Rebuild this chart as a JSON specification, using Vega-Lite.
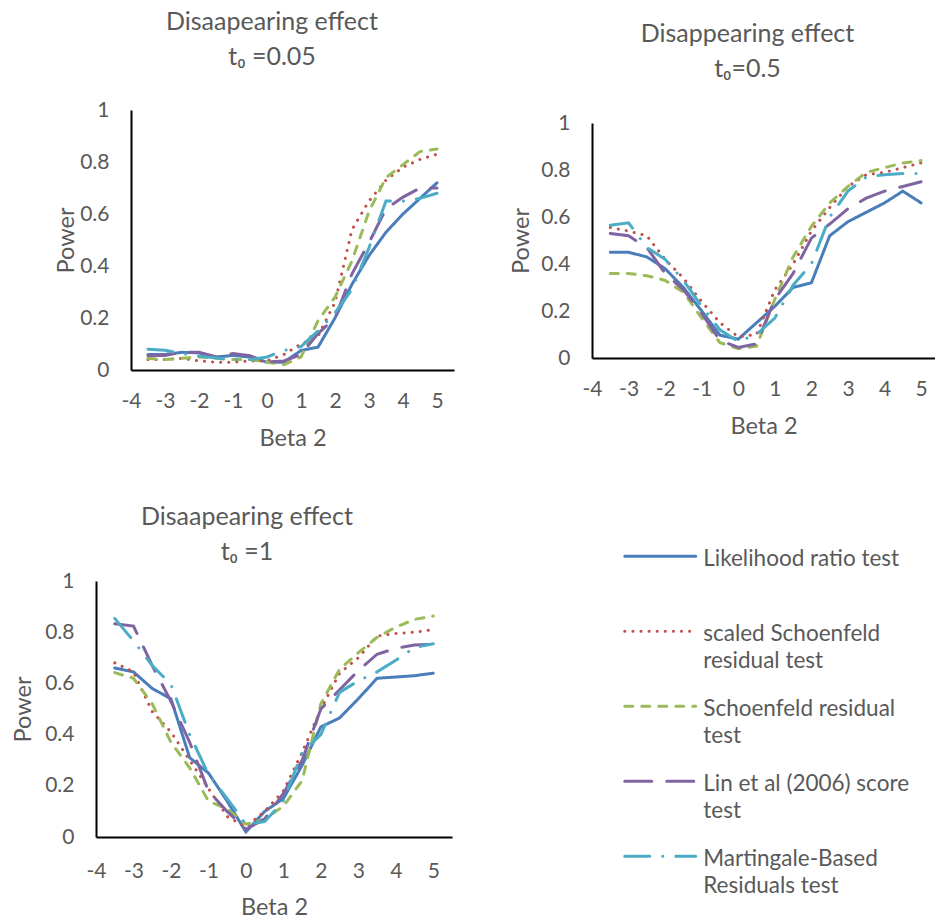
{
"$schema": "https://vega.github.io/schema/vega-lite/v6.json",
"background": "white",
"padding": {"left": 11, "top": 10, "right": 0, "bottom": 0},
"datasets": {
"p1": [
{"beta2":-3.5,"test":"Likelihood ratio test","power":0.06},{"beta2":-3,"test":"Likelihood ratio test","power":0.06},{"beta2":-2.5,"test":"Likelihood ratio test","power":0.068},{"beta2":-2,"test":"Likelihood ratio test","power":0.066},{"beta2":-1.5,"test":"Likelihood ratio test","power":0.05},{"beta2":-1,"test":"Likelihood ratio test","power":0.056},{"beta2":-0.5,"test":"Likelihood ratio test","power":0.05},{"beta2":0,"test":"Likelihood ratio test","power":0.03},{"beta2":0.5,"test":"Likelihood ratio test","power":0.03},{"beta2":1,"test":"Likelihood ratio test","power":0.075},{"beta2":1.5,"test":"Likelihood ratio test","power":0.088},{"beta2":2,"test":"Likelihood ratio test","power":0.2},{"beta2":2.5,"test":"Likelihood ratio test","power":0.33},{"beta2":3,"test":"Likelihood ratio test","power":0.44},{"beta2":3.5,"test":"Likelihood ratio test","power":0.53},{"beta2":4,"test":"Likelihood ratio test","power":0.6},{"beta2":4.5,"test":"Likelihood ratio test","power":0.66},{"beta2":5,"test":"Likelihood ratio test","power":0.72},
{"beta2":-3.5,"test":"scaled Schoenfeld residual test","power":0.04},{"beta2":-3,"test":"scaled Schoenfeld residual test","power":0.04},{"beta2":-2.5,"test":"scaled Schoenfeld residual test","power":0.045},{"beta2":-2,"test":"scaled Schoenfeld residual test","power":0.035},{"beta2":-1.5,"test":"scaled Schoenfeld residual test","power":0.03},{"beta2":-1,"test":"scaled Schoenfeld residual test","power":0.03},{"beta2":-0.5,"test":"scaled Schoenfeld residual test","power":0.035},{"beta2":0,"test":"scaled Schoenfeld residual test","power":0.035},{"beta2":0.5,"test":"scaled Schoenfeld residual test","power":0.06},{"beta2":1,"test":"scaled Schoenfeld residual test","power":0.1},{"beta2":1.5,"test":"scaled Schoenfeld residual test","power":0.13},{"beta2":2,"test":"scaled Schoenfeld residual test","power":0.26},{"beta2":2.5,"test":"scaled Schoenfeld residual test","power":0.54},{"beta2":3,"test":"scaled Schoenfeld residual test","power":0.65},{"beta2":3.5,"test":"scaled Schoenfeld residual test","power":0.73},{"beta2":4,"test":"scaled Schoenfeld residual test","power":0.78},{"beta2":4.5,"test":"scaled Schoenfeld residual test","power":0.81},{"beta2":5,"test":"scaled Schoenfeld residual test","power":0.83},
{"beta2":-3.5,"test":"Schoenfeld residual test","power":0.045},{"beta2":-3,"test":"Schoenfeld residual test","power":0.04},{"beta2":-2.5,"test":"Schoenfeld residual test","power":0.045},{"beta2":-2,"test":"Schoenfeld residual test","power":0.05},{"beta2":-1.5,"test":"Schoenfeld residual test","power":0.045},{"beta2":-1,"test":"Schoenfeld residual test","power":0.04},{"beta2":-0.5,"test":"Schoenfeld residual test","power":0.04},{"beta2":0,"test":"Schoenfeld residual test","power":0.03},{"beta2":0.5,"test":"Schoenfeld residual test","power":0.02},{"beta2":1,"test":"Schoenfeld residual test","power":0.05},{"beta2":1.5,"test":"Schoenfeld residual test","power":0.19},{"beta2":2,"test":"Schoenfeld residual test","power":0.28},{"beta2":2.5,"test":"Schoenfeld residual test","power":0.42},{"beta2":3,"test":"Schoenfeld residual test","power":0.61},{"beta2":3.5,"test":"Schoenfeld residual test","power":0.74},{"beta2":4,"test":"Schoenfeld residual test","power":0.79},{"beta2":4.5,"test":"Schoenfeld residual test","power":0.84},{"beta2":5,"test":"Schoenfeld residual test","power":0.85},
{"beta2":-3.5,"test":"Lin et al (2006) score test","power":0.056},{"beta2":-3,"test":"Lin et al (2006) score test","power":0.056},{"beta2":-2.5,"test":"Lin et al (2006) score test","power":0.068},{"beta2":-2,"test":"Lin et al (2006) score test","power":0.068},{"beta2":-1.5,"test":"Lin et al (2006) score test","power":0.05},{"beta2":-1,"test":"Lin et al (2006) score test","power":0.063},{"beta2":-0.5,"test":"Lin et al (2006) score test","power":0.055},{"beta2":0,"test":"Lin et al (2006) score test","power":0.03},{"beta2":0.5,"test":"Lin et al (2006) score test","power":0.035},{"beta2":1,"test":"Lin et al (2006) score test","power":0.06},{"beta2":1.5,"test":"Lin et al (2006) score test","power":0.14},{"beta2":2,"test":"Lin et al (2006) score test","power":0.2},{"beta2":2.5,"test":"Lin et al (2006) score test","power":0.37},{"beta2":3,"test":"Lin et al (2006) score test","power":0.49},{"beta2":3.5,"test":"Lin et al (2006) score test","power":0.62},{"beta2":4,"test":"Lin et al (2006) score test","power":0.665},{"beta2":4.5,"test":"Lin et al (2006) score test","power":0.7},{"beta2":5,"test":"Lin et al (2006) score test","power":0.7},
{"beta2":-3.5,"test":"Martingale-Based Residuals test","power":0.08},{"beta2":-3,"test":"Martingale-Based Residuals test","power":0.076},{"beta2":-2.5,"test":"Martingale-Based Residuals test","power":0.063},{"beta2":-2,"test":"Martingale-Based Residuals test","power":0.054},{"beta2":-1.5,"test":"Martingale-Based Residuals test","power":0.046},{"beta2":-1,"test":"Martingale-Based Residuals test","power":0.04},{"beta2":-0.5,"test":"Martingale-Based Residuals test","power":0.04},{"beta2":0,"test":"Martingale-Based Residuals test","power":0.05},{"beta2":0.5,"test":"Martingale-Based Residuals test","power":0.075},{"beta2":1,"test":"Martingale-Based Residuals test","power":0.09},{"beta2":1.5,"test":"Martingale-Based Residuals test","power":0.15},{"beta2":2,"test":"Martingale-Based Residuals test","power":0.22},{"beta2":2.5,"test":"Martingale-Based Residuals test","power":0.31},{"beta2":3,"test":"Martingale-Based Residuals test","power":0.47},{"beta2":3.5,"test":"Martingale-Based Residuals test","power":0.65},{"beta2":4,"test":"Martingale-Based Residuals test","power":0.65},{"beta2":4.5,"test":"Martingale-Based Residuals test","power":0.66},{"beta2":5,"test":"Martingale-Based Residuals test","power":0.68}
],
"p2": [
{"beta2":-3.5,"test":"Likelihood ratio test","power":0.45},{"beta2":-3,"test":"Likelihood ratio test","power":0.45},{"beta2":-2.5,"test":"Likelihood ratio test","power":0.43},{"beta2":-2,"test":"Likelihood ratio test","power":0.38},{"beta2":-1.5,"test":"Likelihood ratio test","power":0.3},{"beta2":-1,"test":"Likelihood ratio test","power":0.2},{"beta2":-0.5,"test":"Likelihood ratio test","power":0.097},{"beta2":0,"test":"Likelihood ratio test","power":0.08},{"beta2":0.5,"test":"Likelihood ratio test","power":0.15},{"beta2":1,"test":"Likelihood ratio test","power":0.22},{"beta2":1.5,"test":"Likelihood ratio test","power":0.3},{"beta2":2,"test":"Likelihood ratio test","power":0.32},{"beta2":2.5,"test":"Likelihood ratio test","power":0.52},{"beta2":3,"test":"Likelihood ratio test","power":0.58},{"beta2":3.5,"test":"Likelihood ratio test","power":0.62},{"beta2":4,"test":"Likelihood ratio test","power":0.66},{"beta2":4.5,"test":"Likelihood ratio test","power":0.71},{"beta2":5,"test":"Likelihood ratio test","power":0.66},
{"beta2":-3.5,"test":"scaled Schoenfeld residual test","power":0.555},{"beta2":-3,"test":"scaled Schoenfeld residual test","power":0.54},{"beta2":-2.5,"test":"scaled Schoenfeld residual test","power":0.52},{"beta2":-2,"test":"scaled Schoenfeld residual test","power":0.42},{"beta2":-1.5,"test":"scaled Schoenfeld residual test","power":0.34},{"beta2":-1,"test":"scaled Schoenfeld residual test","power":0.24},{"beta2":-0.5,"test":"scaled Schoenfeld residual test","power":0.15},{"beta2":0,"test":"scaled Schoenfeld residual test","power":0.09},{"beta2":0.5,"test":"scaled Schoenfeld residual test","power":0.1},{"beta2":1,"test":"scaled Schoenfeld residual test","power":0.29},{"beta2":1.5,"test":"scaled Schoenfeld residual test","power":0.4},{"beta2":2,"test":"scaled Schoenfeld residual test","power":0.54},{"beta2":2.5,"test":"scaled Schoenfeld residual test","power":0.64},{"beta2":3,"test":"scaled Schoenfeld residual test","power":0.73},{"beta2":3.5,"test":"scaled Schoenfeld residual test","power":0.78},{"beta2":4,"test":"scaled Schoenfeld residual test","power":0.79},{"beta2":4.5,"test":"scaled Schoenfeld residual test","power":0.81},{"beta2":5,"test":"scaled Schoenfeld residual test","power":0.83},
{"beta2":-3.5,"test":"Schoenfeld residual test","power":0.36},{"beta2":-3,"test":"Schoenfeld residual test","power":0.36},{"beta2":-2.5,"test":"Schoenfeld residual test","power":0.35},{"beta2":-2,"test":"Schoenfeld residual test","power":0.33},{"beta2":-1.5,"test":"Schoenfeld residual test","power":0.28},{"beta2":-1,"test":"Schoenfeld residual test","power":0.17},{"beta2":-0.5,"test":"Schoenfeld residual test","power":0.065},{"beta2":0,"test":"Schoenfeld residual test","power":0.04},{"beta2":0.5,"test":"Schoenfeld residual test","power":0.05},{"beta2":1,"test":"Schoenfeld residual test","power":0.25},{"beta2":1.5,"test":"Schoenfeld residual test","power":0.43},{"beta2":2,"test":"Schoenfeld residual test","power":0.56},{"beta2":2.5,"test":"Schoenfeld residual test","power":0.66},{"beta2":3,"test":"Schoenfeld residual test","power":0.73},{"beta2":3.5,"test":"Schoenfeld residual test","power":0.79},{"beta2":4,"test":"Schoenfeld residual test","power":0.81},{"beta2":4.5,"test":"Schoenfeld residual test","power":0.83},{"beta2":5,"test":"Schoenfeld residual test","power":0.84},
{"beta2":-3.5,"test":"Lin et al (2006) score test","power":0.53},{"beta2":-3,"test":"Lin et al (2006) score test","power":0.52},{"beta2":-2.5,"test":"Lin et al (2006) score test","power":0.47},{"beta2":-2,"test":"Lin et al (2006) score test","power":0.36},{"beta2":-1.5,"test":"Lin et al (2006) score test","power":0.29},{"beta2":-1,"test":"Lin et al (2006) score test","power":0.19},{"beta2":-0.5,"test":"Lin et al (2006) score test","power":0.075},{"beta2":0,"test":"Lin et al (2006) score test","power":0.045},{"beta2":0.5,"test":"Lin et al (2006) score test","power":0.06},{"beta2":1,"test":"Lin et al (2006) score test","power":0.25},{"beta2":1.5,"test":"Lin et al (2006) score test","power":0.36},{"beta2":2,"test":"Lin et al (2006) score test","power":0.51},{"beta2":2.5,"test":"Lin et al (2006) score test","power":0.57},{"beta2":3,"test":"Lin et al (2006) score test","power":0.635},{"beta2":3.5,"test":"Lin et al (2006) score test","power":0.68},{"beta2":4,"test":"Lin et al (2006) score test","power":0.71},{"beta2":4.5,"test":"Lin et al (2006) score test","power":0.73},{"beta2":5,"test":"Lin et al (2006) score test","power":0.75},
{"beta2":-3.5,"test":"Martingale-Based Residuals test","power":0.565},{"beta2":-3,"test":"Martingale-Based Residuals test","power":0.575},{"beta2":-2.5,"test":"Martingale-Based Residuals test","power":0.47},{"beta2":-2,"test":"Martingale-Based Residuals test","power":0.42},{"beta2":-1.5,"test":"Martingale-Based Residuals test","power":0.33},{"beta2":-1,"test":"Martingale-Based Residuals test","power":0.22},{"beta2":-0.5,"test":"Martingale-Based Residuals test","power":0.12},{"beta2":0,"test":"Martingale-Based Residuals test","power":0.07},{"beta2":0.5,"test":"Martingale-Based Residuals test","power":0.1},{"beta2":1,"test":"Martingale-Based Residuals test","power":0.17},{"beta2":1.5,"test":"Martingale-Based Residuals test","power":0.31},{"beta2":2,"test":"Martingale-Based Residuals test","power":0.4},{"beta2":2.5,"test":"Martingale-Based Residuals test","power":0.6},{"beta2":3,"test":"Martingale-Based Residuals test","power":0.71},{"beta2":3.5,"test":"Martingale-Based Residuals test","power":0.77},{"beta2":4,"test":"Martingale-Based Residuals test","power":0.78},{"beta2":4.5,"test":"Martingale-Based Residuals test","power":0.785},{"beta2":5,"test":"Martingale-Based Residuals test","power":0.785}
],
"p3": [
{"beta2":-3.5,"test":"Likelihood ratio test","power":0.66},{"beta2":-3,"test":"Likelihood ratio test","power":0.645},{"beta2":-2.5,"test":"Likelihood ratio test","power":0.58},{"beta2":-2,"test":"Likelihood ratio test","power":0.54},{"beta2":-1.5,"test":"Likelihood ratio test","power":0.31},{"beta2":-1,"test":"Likelihood ratio test","power":0.25},{"beta2":-0.5,"test":"Likelihood ratio test","power":0.14},{"beta2":0,"test":"Likelihood ratio test","power":0.02},{"beta2":0.5,"test":"Likelihood ratio test","power":0.1},{"beta2":1,"test":"Likelihood ratio test","power":0.15},{"beta2":1.5,"test":"Likelihood ratio test","power":0.28},{"beta2":2,"test":"Likelihood ratio test","power":0.43},{"beta2":2.5,"test":"Likelihood ratio test","power":0.465},{"beta2":3,"test":"Likelihood ratio test","power":0.54},{"beta2":3.5,"test":"Likelihood ratio test","power":0.62},{"beta2":4,"test":"Likelihood ratio test","power":0.625},{"beta2":4.5,"test":"Likelihood ratio test","power":0.63},{"beta2":5,"test":"Likelihood ratio test","power":0.64},
{"beta2":-3.5,"test":"scaled Schoenfeld residual test","power":0.68},{"beta2":-3,"test":"scaled Schoenfeld residual test","power":0.645},{"beta2":-2.5,"test":"scaled Schoenfeld residual test","power":0.49},{"beta2":-2,"test":"scaled Schoenfeld residual test","power":0.41},{"beta2":-1.5,"test":"scaled Schoenfeld residual test","power":0.3},{"beta2":-1,"test":"scaled Schoenfeld residual test","power":0.19},{"beta2":-0.5,"test":"scaled Schoenfeld residual test","power":0.08},{"beta2":0,"test":"scaled Schoenfeld residual test","power":0.04},{"beta2":0.5,"test":"scaled Schoenfeld residual test","power":0.1},{"beta2":1,"test":"scaled Schoenfeld residual test","power":0.18},{"beta2":1.5,"test":"scaled Schoenfeld residual test","power":0.33},{"beta2":2,"test":"scaled Schoenfeld residual test","power":0.5},{"beta2":2.5,"test":"scaled Schoenfeld residual test","power":0.64},{"beta2":3,"test":"scaled Schoenfeld residual test","power":0.7},{"beta2":3.5,"test":"scaled Schoenfeld residual test","power":0.785},{"beta2":4,"test":"scaled Schoenfeld residual test","power":0.795},{"beta2":4.5,"test":"scaled Schoenfeld residual test","power":0.8},{"beta2":5,"test":"scaled Schoenfeld residual test","power":0.81},
{"beta2":-3.5,"test":"Schoenfeld residual test","power":0.642},{"beta2":-3,"test":"Schoenfeld residual test","power":0.62},{"beta2":-2.5,"test":"Schoenfeld residual test","power":0.52},{"beta2":-2,"test":"Schoenfeld residual test","power":0.37},{"beta2":-1.5,"test":"Schoenfeld residual test","power":0.27},{"beta2":-1,"test":"Schoenfeld residual test","power":0.14},{"beta2":-0.5,"test":"Schoenfeld residual test","power":0.11},{"beta2":0,"test":"Schoenfeld residual test","power":0.05},{"beta2":0.5,"test":"Schoenfeld residual test","power":0.07},{"beta2":1,"test":"Schoenfeld residual test","power":0.12},{"beta2":1.5,"test":"Schoenfeld residual test","power":0.22},{"beta2":2,"test":"Schoenfeld residual test","power":0.52},{"beta2":2.5,"test":"Schoenfeld residual test","power":0.655},{"beta2":3,"test":"Schoenfeld residual test","power":0.72},{"beta2":3.5,"test":"Schoenfeld residual test","power":0.78},{"beta2":4,"test":"Schoenfeld residual test","power":0.82},{"beta2":4.5,"test":"Schoenfeld residual test","power":0.85},{"beta2":5,"test":"Schoenfeld residual test","power":0.863},
{"beta2":-3.5,"test":"Lin et al (2006) score test","power":0.833},{"beta2":-3,"test":"Lin et al (2006) score test","power":0.824},{"beta2":-2.5,"test":"Lin et al (2006) score test","power":0.67},{"beta2":-2,"test":"Lin et al (2006) score test","power":0.53},{"beta2":-1.5,"test":"Lin et al (2006) score test","power":0.37},{"beta2":-1,"test":"Lin et al (2006) score test","power":0.18},{"beta2":-0.5,"test":"Lin et al (2006) score test","power":0.1},{"beta2":0,"test":"Lin et al (2006) score test","power":0.03},{"beta2":0.5,"test":"Lin et al (2006) score test","power":0.07},{"beta2":1,"test":"Lin et al (2006) score test","power":0.17},{"beta2":1.5,"test":"Lin et al (2006) score test","power":0.3},{"beta2":2,"test":"Lin et al (2006) score test","power":0.5},{"beta2":2.5,"test":"Lin et al (2006) score test","power":0.575},{"beta2":3,"test":"Lin et al (2006) score test","power":0.65},{"beta2":3.5,"test":"Lin et al (2006) score test","power":0.714},{"beta2":4,"test":"Lin et al (2006) score test","power":0.737},{"beta2":4.5,"test":"Lin et al (2006) score test","power":0.75},{"beta2":5,"test":"Lin et al (2006) score test","power":0.753},
{"beta2":-3.5,"test":"Martingale-Based Residuals test","power":0.854},{"beta2":-3,"test":"Martingale-Based Residuals test","power":0.766},{"beta2":-2.5,"test":"Martingale-Based Residuals test","power":0.67},{"beta2":-2,"test":"Martingale-Based Residuals test","power":0.596},{"beta2":-1.5,"test":"Martingale-Based Residuals test","power":0.4},{"beta2":-1,"test":"Martingale-Based Residuals test","power":0.245},{"beta2":-0.5,"test":"Martingale-Based Residuals test","power":0.15},{"beta2":0,"test":"Martingale-Based Residuals test","power":0.05},{"beta2":0.5,"test":"Martingale-Based Residuals test","power":0.06},{"beta2":1,"test":"Martingale-Based Residuals test","power":0.14},{"beta2":1.5,"test":"Martingale-Based Residuals test","power":0.33},{"beta2":2,"test":"Martingale-Based Residuals test","power":0.4},{"beta2":2.5,"test":"Martingale-Based Residuals test","power":0.565},{"beta2":3,"test":"Martingale-Based Residuals test","power":0.61},{"beta2":3.5,"test":"Martingale-Based Residuals test","power":0.645},{"beta2":4,"test":"Martingale-Based Residuals test","power":0.69},{"beta2":4.5,"test":"Martingale-Based Residuals test","power":0.74},{"beta2":5,"test":"Martingale-Based Residuals test","power":0.755}
]
},
"config": {
"font": "Lato",
"view": {"stroke": null},
"axis": {"grid": false, "ticks": false, "domainColor": "#000000", "domainWidth": 2, "labelFontSize": 21, "labelColor": "#595959", "titleFontSize": 23.5, "titleFontWeight": "normal", "titleColor": "#595959", "labelPadding": 22, "labelExpr": "datum.value"},
"axisX": {"titlePadding": 15, "labelFlush": false, "labelPadding": 20},
"title": {"fontSize": 25, "fontWeight": "normal", "color": "#595959", "lineHeight": 35, "frame": "group", "anchor": "middle"},
"legend": {"symbolType": "M-2,0.5L2,0.5", "symbolSize": 1260, "symbolOffset": 17.75, "symbolStrokeWidth": 3, "labelFontSize": 22.5, "labelColor": "#595959", "labelBaseline": "top", "labelLimit": 400, "labelOffset": 23.5, "rowPadding": 6, "padding": 0}
},
"spacing": 55,
"vconcat": [
{"spacing": 55, "hconcat": [
{"data": {"name": "p1"}, "width": 358, "height": 260,
 "title": {"text": ["Disaapearing effect", "t₀ =0.05"], "dx": -3, "offset": 29},
 "mark": {"type": "line", "strokeWidth": 3, "strokeCap": "round"},
 "encoding": {
  "x": {"field": "beta2", "type": "quantitative", "scale": {"domain": [-4, 5.5], "range": [35, 358], "nice": false, "zero": false}, "axis": {"title": "Beta 2", "values": [-4,-3,-2,-1,0,1,2,3,4,5]}},
  "y": {"field": "power", "type": "quantitative", "scale": {"domain": [0, 1], "nice": false}, "axis": {"title": "Power", "values": [0,0.2,0.4,0.6,0.8,1], "offset": -35, "titlePadding": 1}},
  "color": {"field": "test", "type": "nominal", "scale": {"domain": ["Likelihood ratio test","scaled Schoenfeld residual test","Schoenfeld residual test","Lin et al (2006) score test","Martingale-Based Residuals test"], "range": ["#4a7ebb","#c0504d","#9bbb59","#8064a2","#4bacc6"]}, "legend": {"title": null, "orient": "none", "legendX": 527, "legendY": 418, "labelExpr": "datum.label === 'Likelihood ratio test' ? ['Likelihood ratio test', ' '] : datum.label === 'scaled Schoenfeld residual test' ? [' scaled Schoenfeld', 'residual test'] : datum.label === 'Schoenfeld residual test' ? ['Schoenfeld residual', 'test'] : datum.label === 'Lin et al (2006) score test' ? ['Lin et al (2006) score', 'test'] : ['Martingale-Based', 'Residuals test']", "encoding": {"labels": {"lineHeight": {"value": 27}}, "symbols": {"strokeCap": {"value": "round"}}}}},
  "strokeDash": {"field": "test", "type": "nominal", "scale": {"domain": ["Likelihood ratio test","scaled Schoenfeld residual test","Schoenfeld residual test","Lin et al (2006) score test","Martingale-Based Residuals test"], "range": [[1,0],[0.1,8],[8,9],[27,15],[25,13,0.1,13]]}, "legend": {"title": null, "orient": "none", "legendX": 527, "legendY": 418, "labelExpr": "datum.label === 'Likelihood ratio test' ? ['Likelihood ratio test', ' '] : datum.label === 'scaled Schoenfeld residual test' ? [' scaled Schoenfeld', 'residual test'] : datum.label === 'Schoenfeld residual test' ? ['Schoenfeld residual', 'test'] : datum.label === 'Lin et al (2006) score test' ? ['Lin et al (2006) score', 'test'] : ['Martingale-Based', 'Residuals test']", "encoding": {"labels": {"lineHeight": {"value": 27}}, "symbols": {"strokeCap": {"value": "round"}}}}}
 }},
{"data": {"name": "p2"}, "width": 343, "height": 248,
 "title": {"text": ["Disappearing effect", "t₀=0.5"], "dx": -16, "offset": 28},
 "mark": {"type": "line", "strokeWidth": 3, "strokeCap": "round"},
 "encoding": {
  "x": {"field": "beta2", "type": "quantitative", "scale": {"domain": [-4, 5.38], "nice": false, "zero": false}, "axis": {"title": "Beta 2", "values": [-4,-3,-2,-1,0,1,2,3,4,5]}},
  "y": {"field": "power", "type": "quantitative", "scale": {"domain": [0, 1], "range": [248, 13], "nice": false}, "axis": {"title": "Power", "values": [0,0.2,0.4,0.6,0.8,1], "titlePadding": 7}},
  "color": {"field": "test", "type": "nominal", "scale": {"domain": ["Likelihood ratio test","scaled Schoenfeld residual test","Schoenfeld residual test","Lin et al (2006) score test","Martingale-Based Residuals test"], "range": ["#4a7ebb","#c0504d","#9bbb59","#8064a2","#4bacc6"]}, "legend": {"title": null, "orient": "none", "legendX": 527, "legendY": 418, "labelExpr": "datum.label === 'Likelihood ratio test' ? ['Likelihood ratio test', ' '] : datum.label === 'scaled Schoenfeld residual test' ? [' scaled Schoenfeld', 'residual test'] : datum.label === 'Schoenfeld residual test' ? ['Schoenfeld residual', 'test'] : datum.label === 'Lin et al (2006) score test' ? ['Lin et al (2006) score', 'test'] : ['Martingale-Based', 'Residuals test']", "encoding": {"labels": {"lineHeight": {"value": 27}}, "symbols": {"strokeCap": {"value": "round"}}}}},
  "strokeDash": {"field": "test", "type": "nominal", "scale": {"domain": ["Likelihood ratio test","scaled Schoenfeld residual test","Schoenfeld residual test","Lin et al (2006) score test","Martingale-Based Residuals test"], "range": [[1,0],[0.1,8],[8,9],[27,15],[25,13,0.1,13]]}, "legend": {"title": null, "orient": "none", "legendX": 527, "legendY": 418, "labelExpr": "datum.label === 'Likelihood ratio test' ? ['Likelihood ratio test', ' '] : datum.label === 'scaled Schoenfeld residual test' ? [' scaled Schoenfeld', 'residual test'] : datum.label === 'Schoenfeld residual test' ? ['Schoenfeld residual', 'test'] : datum.label === 'Lin et al (2006) score test' ? ['Lin et al (2006) score', 'test'] : ['Martingale-Based', 'Residuals test']", "encoding": {"labels": {"lineHeight": {"value": 27}}, "symbols": {"strokeCap": {"value": "round"}}}}}
 }}
]},
{"data": {"name": "p3"}, "width": 356, "height": 256,
 "title": {"text": ["Disaapearing effect", "t₀ =1"], "dx": -27, "offset": 5},
 "mark": {"type": "line", "strokeWidth": 3, "strokeCap": "round"},
 "encoding": {
  "x": {"field": "beta2", "type": "quantitative", "scale": {"domain": [-4, 5.5], "nice": false, "zero": false}, "axis": {"title": "Beta 2", "values": [-4,-3,-2,-1,0,1,2,3,4,5], "labelPadding": 23, "titlePadding": 14}},
  "y": {"field": "power", "type": "quantitative", "scale": {"domain": [0, 1], "nice": false}, "axis": {"title": "Power", "values": [0,0.2,0.4,0.6,0.8,1], "titlePadding": 9}},
  "color": {"field": "test", "type": "nominal", "scale": {"domain": ["Likelihood ratio test","scaled Schoenfeld residual test","Schoenfeld residual test","Lin et al (2006) score test","Martingale-Based Residuals test"], "range": ["#4a7ebb","#c0504d","#9bbb59","#8064a2","#4bacc6"]}, "legend": {"title": null, "orient": "none", "legendX": 527, "legendY": 418, "labelExpr": "datum.label === 'Likelihood ratio test' ? ['Likelihood ratio test', ' '] : datum.label === 'scaled Schoenfeld residual test' ? [' scaled Schoenfeld', 'residual test'] : datum.label === 'Schoenfeld residual test' ? ['Schoenfeld residual', 'test'] : datum.label === 'Lin et al (2006) score test' ? ['Lin et al (2006) score', 'test'] : ['Martingale-Based', 'Residuals test']", "encoding": {"labels": {"lineHeight": {"value": 27}}, "symbols": {"strokeCap": {"value": "round"}}}}},
  "strokeDash": {"field": "test", "type": "nominal", "scale": {"domain": ["Likelihood ratio test","scaled Schoenfeld residual test","Schoenfeld residual test","Lin et al (2006) score test","Martingale-Based Residuals test"], "range": [[1,0],[0.1,8],[8,9],[27,15],[25,13,0.1,13]]}, "legend": {"title": null, "orient": "none", "legendX": 527, "legendY": 418, "labelExpr": "datum.label === 'Likelihood ratio test' ? ['Likelihood ratio test', ' '] : datum.label === 'scaled Schoenfeld residual test' ? [' scaled Schoenfeld', 'residual test'] : datum.label === 'Schoenfeld residual test' ? ['Schoenfeld residual', 'test'] : datum.label === 'Lin et al (2006) score test' ? ['Lin et al (2006) score', 'test'] : ['Martingale-Based', 'Residuals test']", "encoding": {"labels": {"lineHeight": {"value": 27}}, "symbols": {"strokeCap": {"value": "round"}}}}}
 }}
]
}
